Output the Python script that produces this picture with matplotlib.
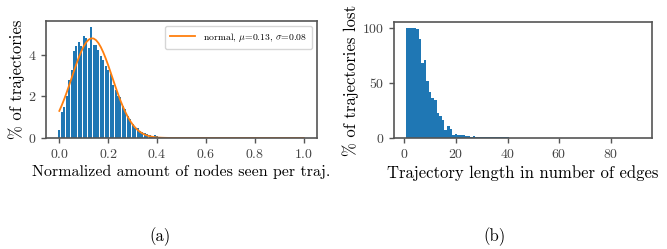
import numpy as np
import matplotlib
matplotlib.use("Agg")
import matplotlib.pyplot as plt

plt.rcParams['font.family'] = ['cmr10', 'DejaVu Serif']
plt.rcParams['mathtext.fontset'] = 'cm'
plt.rcParams['axes.formatter.use_mathtext'] = True
plt.rcParams['axes.unicode_minus'] = False

# (a) share of trajectories per normalized amount of seen nodes (bins of 0.01)
frac_pos = [round(0.01 * i, 2) for i in range(101)]
frac_pct = [0.40, 1.23, 1.50, 2.00, 2.80, 3.29, 4.20, 4.45, 4.65, 4.45,
            4.90, 4.80, 4.35, 5.37, 4.49, 4.49, 4.25, 3.93, 3.77, 3.45,
            3.29, 3.09, 2.56, 2.32, 2.04, 1.97, 1.52, 1.39, 1.04, 0.91,
            0.69, 0.48, 0.48, 0.32, 0.27, 0.24, 0.19, 0.16, 0.11, 0.13,
            0.08] + [0.0] * 60
mu, sigma = 0.134, 0.083

# (b) share of trajectories lost per trajectory length
length = list(range(1, 92))
lost_pct = [100, 100, 100, 100, 98.5, 90, 68, 70.5, 51.6, 42,
            36.6, 34.5, 23, 20, 16.5, 7.5, 11, 8.4, 3.0, 4.0,
            3.0, 3.0, 2.4, 1.5, 1.5, 0.6, 1.5, 0.5, 0.5, 0.5,
            0.5, 0.5, 0.5, 0.5, 0.5, 0.5, 0.5, 0.5, 0.5, 0.5,
            0.4, 0.4, 0.4, 0.4, 0.4, 0.4, 0.4, 0.4, 0.4, 0.4,
            0.4, 0.4, 0.4, 0.4, 0.4, 0.4, 0.4, 0.4, 0.4, 0.4,
            0.4, 0.4, 0.4, 0.4, 0.4, 0.4, 0.4, 0.4, 0.4, 0.4,
            0.4, 0.4, 0.4, 0.4, 0.4, 0.4, 0.4, 0.4, 0.4, 0.4,
            0.4, 0.0, 0.0, 0.0, 0.4, 0.0, 0.0, 0.4, 0.0, 0.0,
            0.4]

fig = plt.figure(figsize=(6.67, 2.49), dpi=100)
ax1 = fig.add_axes([0.069, 0.4458, 0.4063, 0.4699])
ax2 = fig.add_axes([0.5907, 0.4458, 0.3868, 0.4659])

xs = np.array(frac_pos)
pdf = np.exp(-0.5 * ((xs - mu) / sigma) ** 2) / (sigma * np.sqrt(2 * np.pi))
ax1.bar(frac_pos, frac_pct, width=0.008, color='#1f77b4')
ax1.plot(xs, pdf, color='#ff7f0e', lw=1.3,
         label=r'normal, $\mu$=%.2f, $\sigma$=%.2f' % (mu, sigma))
ax1.set_xticks([0.0, 0.2, 0.4, 0.6, 0.8, 1.0])
ax1.set_yticks([0, 2, 4])
ax1.set_xlabel('Normalized amount of nodes seen per traj.', fontsize=11.5, labelpad=3)
ax1.set_ylabel('% of trajectories', fontsize=12, labelpad=2)
ax1.legend(loc='upper right', fontsize=7, framealpha=0.8, handlelength=2.6,
           borderpad=0.5, borderaxespad=0.5)

ax2.bar(length, lost_pct, width=1.0, color='#1f77b4')
ax2.set_xticks([0, 20, 40, 60, 80])
ax2.set_yticks([0, 50, 100])
ax2.set_xlabel('Trajectory length in number of edges', fontsize=12, labelpad=3)
ax2.set_ylabel('% of trajectories lost', fontsize=12, labelpad=2)

for ax in (ax1, ax2):
    for s in ax.spines.values():
        s.set_color('#555555')
        s.set_linewidth(1.2)
    ax.tick_params(colors='#555555', labelsize=10, length=3.5, width=1)
    for lab in ax.get_xticklabels() + ax.get_yticklabels():
        lab.set_color('#444444')

fig.text(0.24, 0.05, '(a)', fontsize=12, ha='center', va='center')
fig.text(0.742, 0.05, '(b)', fontsize=12, ha='center', va='center')

fig.savefig('out.png', dpi=100)
